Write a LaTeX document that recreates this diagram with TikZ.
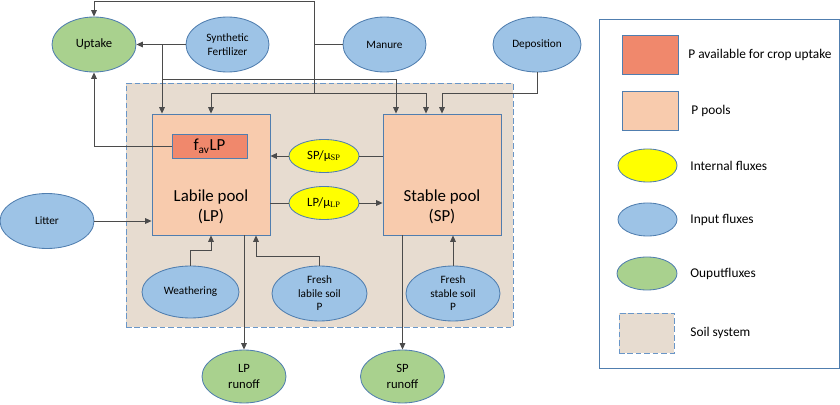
\documentclass[tikz,border=0pt]{standalone}
\usepackage{fontspec}
\setmainfont{Carlito}
\newfontfamily\serifsub{Liberation Serif}
\usetikzlibrary{
    shapes.geometric,
    arrows.meta,
    positioning
}
\definecolor{inblue}{RGB}{157, 195, 230}
\definecolor{outgreen}{RGB}{169, 209, 142}
\definecolor{fluxyellow}{RGB}{255, 255, 0}
\definecolor{poolpeach}{RGB}{248, 203, 173}
\definecolor{availorange}{RGB}{240, 136, 108}
\definecolor{soiltan}{RGB}{231, 220, 208}
\definecolor{edgeblue}{RGB}{80, 126, 175}
\definecolor{dashblue}{RGB}{105, 150, 200}
\definecolor{linegray}{RGB}{75, 75, 75}

\begin{document}
\begin{tikzpicture}[
        flux/.style={ellipse, draw=edgeblue, line width=0.6pt, inner sep=0pt, align=center, font=\fontsize{8}{9.6}\selectfont},
        influx/.style={flux, fill=inblue, minimum width=2.2cm, minimum height=1.375cm},
        outflux/.style={flux, fill=outgreen, minimum width=2.1cm, minimum height=1.325cm, font=\fontsize{9}{11}\selectfont},
        intflux/.style={flux, fill=fluxyellow, minimum width=1.75cm, minimum height=0.825cm, font=\fontsize{9}{11}\selectfont},
        pool/.style={rectangle, draw=edgeblue, line width=0.6pt, fill=poolpeach, minimum width=2.95cm, minimum height=3.025cm},
        pooltext/.style={align=center, font=\fontsize{12}{14.4}\selectfont},
        avail/.style={rectangle, draw=edgeblue, line width=0.6pt, fill=availorange, minimum width=1.875cm, minimum height=0.6cm, font=\fontsize{12}{14.4}\selectfont},
        soilbox/.style={rectangle, draw=dashblue, line width=0.6pt, dash pattern=on 4pt off 2pt, fill=soiltan},
        legtext/.style={anchor=west, font=\fontsize{9.5}{11.4}\selectfont},
        flow/.style={draw=linegray, line width=0.6pt},
        arrow/.style={flow, -{Triangle[length=1.6mm, width=1.4mm]}}
    ]
        \useasboundingbox (0,0) rectangle (21,10.125);

        % Soil system
        \node[soilbox, minimum width=9.675cm, minimum height=6.1cm] (soil) at (7.9875,5) {};

        % Top row: inputs and uptake
        \node[outflux, minimum height=1.375cm] (uptake) at (2.35,9.0125) {Uptake};
        \node[influx, minimum width=2.075cm] (synth) at (5.6875,9.0125) {Synthetic\\Fertilizer};
        \node[influx, minimum width=2.075cm] (manure) at (9.6125,9.0125) {Manure};
        \node[influx] (depo) at (13.425,9.0125) {Deposition};

        % Pools
        \node[pool] (lp) at (5.275,5.7625) {};
        \node[pooltext] (lplabel) at ([yshift=-0.8cm]lp.center) {Labile pool\\(LP)};
        \node[avail] (fav) at (5.2375,6.475) {f\textsubscript{av}LP};
        \node[pool] (sp) at (11.05,5.7625) {};
        \node[pooltext] (splabel) at ([yshift=-0.8cm]sp.center) {Stable pool\\(SP)};

        % Internal fluxes
        \node[intflux] (spmu) at (8.1,6.225) {SP/μ\textsubscript{\serifsub SP}};
        \node[intflux] (lpmu) at (8.1,5.05) {LP/μ\textsubscript{\serifsub LP}};

        % Lower inputs
        \node[influx, minimum width=2.35cm] (litter) at (1.175,4.6) {Litter};
        \node[influx, minimum width=2.425cm, minimum height=1.3cm] (weath) at (4.7625,2.825) {Weathering};
        \node[influx, minimum width=2.375cm] (freshlab) at (7.9875,2.7875) {Fresh\\labile soil\\P};
        \node[influx, minimum width=2.35cm] (freshstab) at (11.325,2.7875) {Fresh\\stable soil\\P};

        % Runoff
        \node[outflux] (lprun) at (6.1,0.7125) {LP\\runoff};
        \node[outflux] (sprun) at (10.0625,0.7125) {SP\\runoff};

        % Manure: to uptake and to both pools
        \coordinate (mj) at (7.85,9.0125);
        \coordinate (mtop) at (7.85,10.1);
        \coordinate (mlow) at (7.85,7.8);
        \draw[flow] (manure.west) -- (mj);
        \draw[arrow] (mj) -- (mtop) -| (uptake.north);
        \draw[flow] (mj) -- (mlow);
        \draw[arrow] (mlow) -| (lp.north);
        \draw[arrow] (mlow) -| ([xshift=-0.4cm]sp.north);

        % Synthetic fertilizer
        \coordinate (sj) at (4.05,9.0125);
        \coordinate (sl) at (4.05,8.15);
        \draw[arrow] (synth.west) -- (uptake.east);
        \draw[arrow] (sj) -- (sj |- lp.north);
        \draw[arrow] (sl) -| ([xshift=-1.15cm]sp.north);

        % Deposition
        \draw[arrow] (depo.south) -- ++(0,-0.525) -| (sp.north);

        % Available P to uptake
        \draw[arrow] (fav.west) -| (uptake.south);

        % Exchange between pools
        \draw[flow] (sp.west |- spmu) -- (spmu.east);
        \draw[arrow] (spmu.west) -- (lp.east |- spmu);
        \draw[flow] (lp.east |- lpmu) -- (lpmu.west);
        \draw[arrow] (lpmu.east) -- (sp.west |- lpmu);

        % Lower inputs into pools
        \draw[arrow] (litter.east) -- (lp.west |- litter);
        \draw[arrow] (weath.north) -- ++(0,0.375) -| (lp.south);
        \draw[arrow] (freshlab.north) -- ++(0,0.225) -| ([xshift=1.125cm]lp.south);
        \draw[arrow] (freshstab.north) -- (freshstab.north |- sp.south);

        % Runoff
        \draw[arrow] (lprun.north |- lp.south) -- (lprun.north);
        \draw[arrow] (sprun.north |- sp.south) -- (sprun.north);

        % Legend
        \node[rectangle, draw=edgeblue, line width=0.6pt, minimum width=6cm, minimum height=8.725cm] (legend) at (17.975,5.2875) {};
        \node[avail, minimum width=1.4cm, minimum height=0.975cm] (legavail) at (16.25,8.7625) {};
        \node[pool, minimum width=1.4cm, minimum height=0.975cm] (legpool) at (16.25,7.3625) {};
        \node[intflux, minimum width=1.475cm] (legint) at (16.1875,5.9875) {};
        \node[influx, minimum width=1.475cm, minimum height=0.825cm] (legin) at (16.1875,4.6375) {};
        \node[outflux, minimum width=1.5cm, minimum height=0.825cm] (legout) at (16.175,3.2875) {};
        \node[soilbox, minimum width=1.375cm, minimum height=1cm] (legsoil) at (16.1625,1.8) {};
        \node[legtext, right=0.125cm of legavail] (tavail) {P available for crop uptake};
        \node[legtext, right=0.2cm of legpool] (tpool) {P pools};
        \node[legtext, right=0.2cm of legint] (tint) {Internal fluxes};
        \node[legtext, right=0.2cm of legin] (tin) {Input fluxes};
        \node[legtext, right=0.2cm of legout] (tout) {Ouputfluxes};
        \node[legtext, right=0.275cm of legsoil] (tsoil) {Soil system};
    \end{tikzpicture}
\end{document}
